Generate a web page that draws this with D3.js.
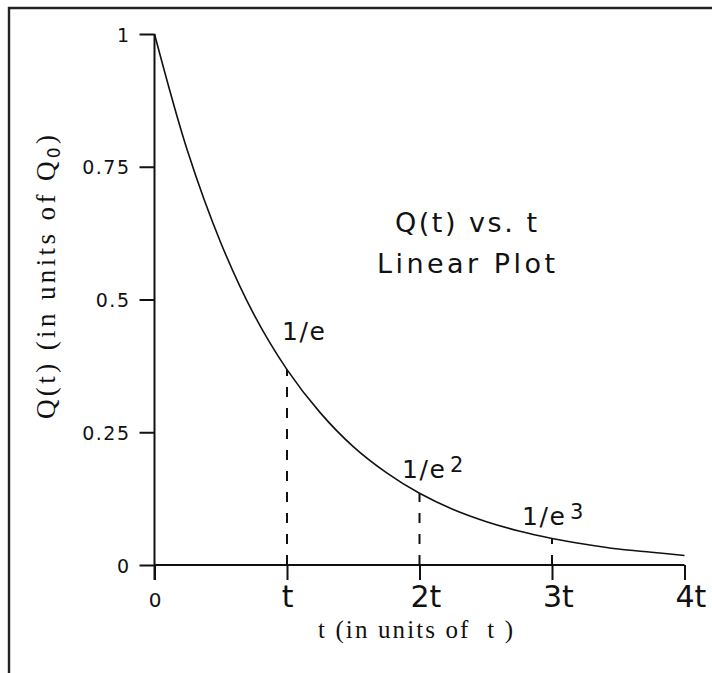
<!DOCTYPE html>
<html>
<head>
<meta charset="utf-8">
<script src="https://cdn.jsdelivr.net/npm/d3@7"></script>
<style>
  html, body { margin: 0; padding: 0; background: #fff; }
  svg { display: block; }
  text { white-space: pre; }
</style>
</head>
<body>
<div id="chart"></div>
<script>
// ---- data ----
const xTicks = [0, 1, 2, 3, 4];
const xTickLabels = ["0", "t", "2t", "3t", "4t"];
const yTicks = [0, 0.25, 0.5, 0.75, 1];
const yTickLabels = ["0", "0.25", "0.5", "0.75", "1"];
const curveT = [0, 0.25, 0.5, 0.75, 1, 1.25, 1.5, 1.75, 2, 2.25, 2.5, 2.75, 3, 3.25, 3.5, 3.75, 4];
const curveQ = [1, 0.779, 0.607, 0.472, 0.368, 0.287, 0.223, 0.174, 0.135, 0.105, 0.082, 0.064, 0.05, 0.039, 0.03, 0.024, 0.018];
const markT = [1, 2, 3];
const markQ = [0.368, 0.135, 0.05];
const markLabels = ["1/e", "1/e", "1/e"];
const markExps = ["", "2", "3"];
const titleLines = ["Q(t) vs. t", "Linear Plot"];
const xTitle = "t (in units of  t )";
const yTitle = "Q(t) (in units of Q";
const yTitleSub = "0";

// ---- layout ----
const W = 712, H = 673;
const svg = d3.select("#chart").append("svg").attr("width", W).attr("height", H);

const x = d3.scaleLinear().domain([0, 4]).range([154.5, 684.5]);
const y = d3.scaleLinear().domain([0, 1]).range([565, 34]);

// frame (top and left edges visible)
svg.append("path")
  .attr("d", `M9,${H + 5} L9,8 L${W + 5},8`)
  .attr("fill", "none").attr("stroke", "#222").attr("stroke-width", 2.4);

const ink = "#111";
const sans = "'DejaVu Sans', sans-serif";
const serif = "'Liberation Serif', 'DejaVu Serif', serif";

// y axis
const yAxis = svg.append("g").attr("transform", `translate(${x(0)},0)`)
  .call(d3.axisLeft(y).tickValues(yTicks).tickSize(15).tickSizeOuter(0)
    .tickFormat((d, i) => yTickLabels[i]));
yAxis.select(".domain").attr("d", `M0,${y(1)} V${y(0) + 15}`).attr("stroke", ink).attr("stroke-width", 2);
yAxis.selectAll(".tick line").attr("stroke", ink).attr("stroke-width", 2);
yAxis.selectAll(".tick text")
  .attr("x", -24).attr("dy", "0.37em")
  .attr("font-family", sans).attr("font-size", 19).attr("letter-spacing", 1.5).attr("fill", ink);

// x axis
const xAxis = svg.append("g").attr("transform", `translate(0,${y(0)})`)
  .call(d3.axisBottom(x).tickValues(xTicks).tickSize(15).tickSizeOuter(0)
    .tickFormat((d, i) => xTickLabels[i]));
xAxis.select(".domain").attr("d", `M${x(0)},0 H${x(4)}`).attr("stroke", ink).attr("stroke-width", 2);
xAxis.selectAll(".tick line").attr("stroke", ink).attr("stroke-width", 2);
xAxis.selectAll(".tick text")
  .attr("y", 42).attr("dy", 0)
  .attr("font-family", sans)
  .attr("font-size", (d, i) => xTickLabels[i].length === 1 && xTickLabels[i] !== "t" ? 20 : 30)
  .attr("text-anchor", (d, i) => xTickLabels[i].length > 1 ? "start" : "middle")
  .attr("dx", (d, i) => xTickLabels[i].length > 1 ? -9.5 : 0)
  .attr("fill", ink);

// dashed drop lines (drawn upward from the axis)
svg.append("g").selectAll("line").data(markT).join("line")
  .attr("x1", d => x(d)).attr("x2", d => x(d))
  .attr("y1", y(0)).attr("y2", (d, i) => y(markQ[i]))
  .attr("stroke", ink).attr("stroke-width", 2)
  .attr("stroke-dasharray", "10,11");

// curve
const line = d3.line().x(d => x(d[0])).y(d => y(d[1])).curve(d3.curveCatmullRom);
svg.append("path")
  .datum(curveT.map((t, i) => [t, curveQ[i]]))
  .attr("d", line)
  .attr("fill", "none").attr("stroke", ink).attr("stroke-width", 1.6);

// annotations 1/e, 1/e^2, 1/e^3
const markOffsets = [[-5, -30], [-17.5, -15], [-30, -13]];
const ann = svg.append("g").selectAll("g").data(markT).join("g")
  .attr("transform", (d, i) => `translate(${x(d) + markOffsets[i][0]},${y(markQ[i]) + markOffsets[i][1]})`);
ann.append("text")
  .text((d, i) => markLabels[i])
  .attr("font-family", sans).attr("font-size", 25).attr("fill", ink)
  .attr("textLength", 43).attr("lengthAdjust", "spacing");
ann.append("text")
  .text((d, i) => markExps[i])
  .attr("x", 48).attr("y", -6)
  .attr("font-family", sans).attr("font-size", 21).attr("fill", ink);

// title
const titleX = 466;
svg.append("g").selectAll("text").data(titleLines).join("text")
  .text(d => d)
  .attr("x", titleX).attr("y", (d, i) => 232 + i * 41)
  .attr("text-anchor", "middle")
  .attr("font-family", sans).attr("font-size", 27).attr("fill", ink)
  .attr("textLength", (d, i) => [142, 178][i]).attr("lengthAdjust", "spacing");

// x axis title
svg.append("text")
  .text(xTitle)
  .attr("x", 318).attr("y", 638)
  .attr("font-family", serif).attr("font-size", 25).attr("fill", ink)
  .attr("textLength", 195).attr("lengthAdjust", "spacing");

// y axis title
const yt = svg.append("text")
  .attr("transform", `translate(55,419) rotate(-90)`)
  .attr("font-family", serif).attr("font-size", 27).attr("fill", ink)
  .attr("textLength", 284).attr("lengthAdjust", "spacing");
yt.append("tspan").text(yTitle);
yt.append("tspan").text(yTitleSub).attr("font-family", sans).attr("font-size", 17).attr("dy", 5);
yt.append("tspan").text(")").attr("dy", -5);
</script>
</body>
</html>
